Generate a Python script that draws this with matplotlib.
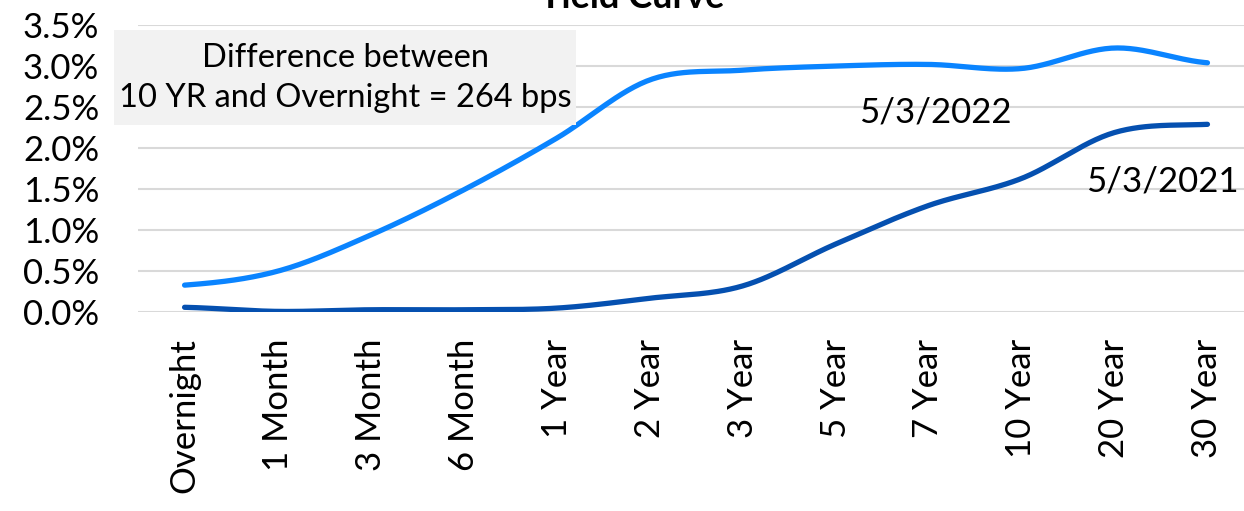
import numpy as np
import matplotlib.pyplot as plt
from matplotlib.patches import Rectangle
from matplotlib.ticker import PercentFormatter

plt.rcParams['font.family'] = ['Lato', 'DejaVu Sans']

maturities = ['Overnight', '1 Month', '3 Month', '6 Month', '1 Year', '2 Year',
              '3 Year', '5 Year', '7 Year', '10 Year', '20 Year', '30 Year']
yields_2022 = [0.33, 0.50, 0.94, 1.49, 2.12, 2.83, 2.95, 3.00, 3.02, 2.97, 3.22, 3.04]
yields_2021 = [0.06, 0.01, 0.03, 0.03, 0.05, 0.17, 0.32, 0.83, 1.30, 1.63, 2.19, 2.29]


def smooth(y, n=30):
    # Catmull-Rom style smoothing between points, like a spreadsheet "smoothed line"
    y = np.asarray(y, dtype=float)
    p = np.concatenate([[y[0]], y, [y[-1]]])
    xs, ys = [], []
    t = np.linspace(0, 1, n, endpoint=False)
    for i in range(1, len(p) - 2):
        p0, p1, p2, p3 = p[i - 1], p[i], p[i + 1], p[i + 2]
        seg = 0.5 * ((2 * p1) + (-p0 + p2) * t + (2 * p0 - 5 * p1 + 4 * p2 - p3) * t ** 2
                     + (-p0 + 3 * p1 - 3 * p2 + p3) * t ** 3)
        xs.extend(i - 1 + t)
        ys.extend(seg)
    xs.append(len(y) - 1)
    ys.append(y[-1])
    return np.array(xs), np.array(ys)


fig, ax = plt.subplots(figsize=(12.44, 5.11), dpi=100)
fig.subplots_adjust(left=0.111, right=1.008, top=0.951, bottom=0.389)

x1, s1 = smooth(yields_2022)
x2, s2 = smooth(yields_2021)
ax.plot(x1, s1, color='#0A84FF', lw=3.8, solid_capstyle='round', zorder=3)
ax.plot(x2, s2, color='#0550B0', lw=3.8, solid_capstyle='round', zorder=3)

ax.set_ylim(0, 3.5)
ax.set_yticks(np.arange(0, 3.51, 0.5))
ax.yaxis.set_major_formatter(PercentFormatter(decimals=1))
ax.set_xlim(-0.5, len(maturities) - 0.5)
ax.set_xticks(range(len(maturities)))
ax.set_xticklabels(maturities, rotation=90, fontsize=25)
ax.tick_params(axis='y', labelsize=25, length=0, pad=28)
ax.tick_params(axis='x', length=0, pad=19)
ax.grid(axis='y', color='#D9D9D9', lw=1.5)
ax.set_axisbelow(True)
for s in ax.spines.values():
    s.set_visible(False)

# title sits at the very top edge of the figure
fig.text(0.508, 1 - 8 / 511, 'Yield Curve', fontsize=26, fontweight='bold',
         ha='center', va='baseline')

# grey note box over the top-left of the plot
fig.add_artist(Rectangle((114 / 1244, 1 - 125 / 511), 462 / 1244, 95 / 511,
                         transform=fig.transFigure, fc='#F2F2F2', ec='none', zorder=4))
fig.text(345 / 1244, 1 - 78 / 511, 'Difference between\n10 YR and Overnight = 264 bps',
         ha='center', va='center', fontsize=23.5, linespacing=1.4, zorder=5)

ax.text(8.07, 2.44, '5/3/2022', fontsize=25, ha='center', va='center')
ax.text(10.51, 1.59, '5/3/2021', fontsize=25, ha='center', va='center')

fig.savefig('out.png')
